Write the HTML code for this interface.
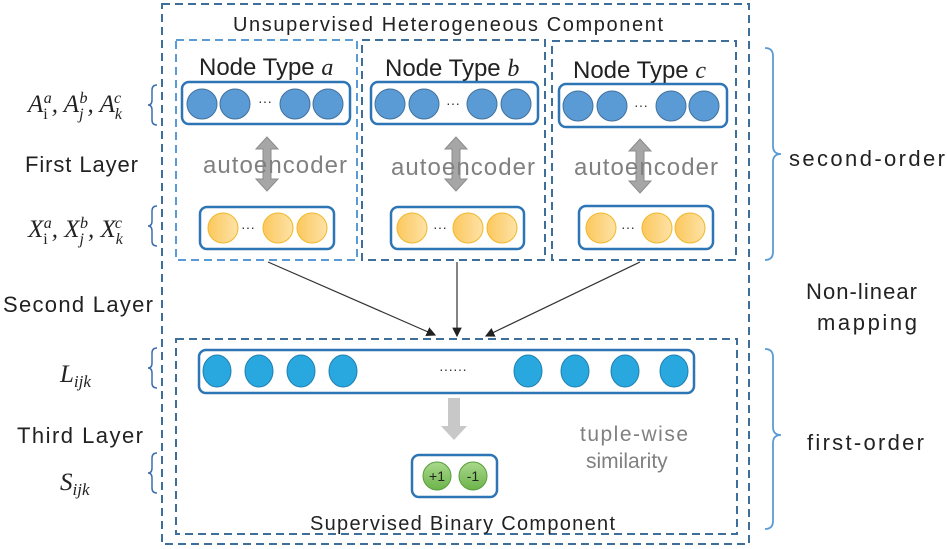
<!DOCTYPE html>
<html><head><meta charset="utf-8"><style>
body{margin:0;background:#fff}
svg{display:block}
text{font-family:"Liberation Sans",sans-serif}
text.m, tspan.m{font-family:"Liberation Serif",serif;font-style:italic}
</style></head><body>
<svg width="947" height="549" viewBox="0 0 947 549" xmlns="http://www.w3.org/2000/svg">
<defs>
<linearGradient id="y" x1="0" x2="1"><stop offset="0" stop-color="#fcc85e"/><stop offset="1" stop-color="#fde2a6"/></linearGradient>
<linearGradient id="g" x1="0" x2="0" y1="0" y2="1"><stop offset="0" stop-color="#a9d98c"/><stop offset="1" stop-color="#6cb34a"/></linearGradient>
<marker id="ar" markerWidth="8" markerHeight="8" refX="7" refY="4" orient="auto"><path d="M0,0 L8,4 L0,8 z" fill="#222"/></marker>
</defs>
<g fill="none" stroke="#3e6f9a" stroke-width="2" stroke-dasharray="8,5">
<rect x="162" y="4" width="587" height="540"/>
<rect x="176" y="40" width="181" height="220" stroke="#5b9bd5"/>
<rect x="362" y="40" width="183" height="220"/>
<rect x="552" y="41" width="184" height="219"/>
<rect x="176" y="339" width="561" height="195"/>
</g>
<text x="448" y="31" font-size="20" text-anchor="middle" fill="#222" textLength="430">Unsupervised Heterogeneous Component</text>
<text x="199" y="75" font-size="24" fill="#222">Node Type <tspan class="m">a</tspan></text>
<text x="385" y="76" font-size="24" fill="#222">Node Type <tspan class="m">b</tspan></text>
<text x="573" y="78" font-size="24" fill="#222">Node Type <tspan class="m">c</tspan></text>
<g fill="#fff" stroke="#2e75b6" stroke-width="2.5">
<rect x="182" y="82" width="168" height="42" rx="7"/>
<rect x="371" y="82" width="167" height="42" rx="7"/>
<rect x="559" y="84" width="168" height="43" rx="7"/>
<rect x="200" y="207" width="134" height="42" rx="7"/>
<rect x="391" y="207" width="133" height="42" rx="7"/>
<rect x="579" y="206" width="134" height="43" rx="7"/>
<rect x="199" y="350" width="495" height="43" rx="7"/>
<rect x="412" y="455" width="85" height="42" rx="7"/>
</g>
<g fill="#5b9bd5" stroke="#41719c" stroke-width="1">
<circle cx="202" cy="104" r="15"/><circle cx="235" cy="104" r="15"/><circle cx="295" cy="104" r="15"/><circle cx="328" cy="104" r="15"/>
<circle cx="390" cy="104" r="15"/><circle cx="424" cy="104" r="15"/><circle cx="482" cy="104" r="15"/><circle cx="516" cy="104" r="15"/>
<circle cx="578" cy="106" r="15"/><circle cx="612" cy="106" r="15"/><circle cx="671" cy="106" r="15"/><circle cx="704" cy="106" r="15"/>
</g>
<g fill="url(#y)" stroke="#f0b82a" stroke-width="1">
<circle cx="223" cy="228" r="15"/><circle cx="278" cy="228" r="15"/><circle cx="312" cy="228" r="15"/>
<circle cx="412" cy="228" r="15"/><circle cx="468" cy="228" r="15"/><circle cx="502" cy="228" r="15"/>
<circle cx="601" cy="228" r="15"/><circle cx="657" cy="228" r="15"/><circle cx="690" cy="228" r="15"/>
</g>
<g font-size="14" fill="#333" text-anchor="middle">
<text x="265" y="106">···</text><text x="453" y="108">···</text><text x="641" y="110">···</text>
<text x="248" y="232">···</text><text x="440" y="232">···</text><text x="628" y="232">···</text>
<text x="453" y="374">······</text>
</g>
<g fill="#29a8e0" stroke="#1f7fb0" stroke-width="1">
<ellipse cx="217" cy="371" rx="14" ry="16"/><ellipse cx="259" cy="371" rx="14" ry="16"/><ellipse cx="301" cy="371" rx="14" ry="16"/><ellipse cx="343" cy="371" rx="14" ry="16"/>
<ellipse cx="528" cy="371" rx="14" ry="16"/><ellipse cx="575" cy="371" rx="14" ry="16"/><ellipse cx="625" cy="371" rx="14" ry="16"/><ellipse cx="674" cy="371" rx="14" ry="16"/>
</g>
<g fill="#a6a6a6" stroke="#8c8c8c" stroke-width="1">
<path d="M267,137 l-11,12 h7 v30 h-7 l11,12 l11,-12 h-7 v-30 h7 z"/>
<path d="M456,137 l-11,12 h7 v30 h-7 l11,12 l11,-12 h-7 v-30 h7 z"/>
<path d="M640,139 l-11,12 h7 v30 h-7 l11,12 l11,-12 h-7 v-30 h7 z"/>
</g>
<path d="M448,398 h12 v28 h7 l-13,14 l-13,-14 h7 z" fill="#c8c8c8"/>
<g font-size="24" fill="#808080">
<text x="203" y="173" textLength="144">autoencoder</text><text x="391" y="175" textLength="144">autoencoder</text><text x="574" y="175" textLength="144">autoencoder</text>
</g>
<g fill="url(#g)" stroke="#5a9e3c" stroke-width="1"><circle cx="437" cy="476" r="14"/><circle cx="473" cy="476" r="14"/></g>
<text x="437" y="481" font-size="14" text-anchor="middle" fill="#222">+1</text>
<text x="473" y="481" font-size="14" text-anchor="middle" fill="#222">-1</text>
<text x="580" y="441" font-size="21" fill="#808080" textLength="108">tuple-wise</text>
<text x="586" y="468" font-size="21" fill="#808080">similarity</text>
<text x="310" y="530" font-size="20" fill="#222" textLength="305">Supervised Binary Component</text>
<g stroke="#333" stroke-width="1.2" marker-end="url(#ar)">
<line x1="268" y1="262" x2="435" y2="335"/>
<line x1="457" y1="262" x2="457" y2="336"/>
<line x1="640" y1="262" x2="486" y2="336"/>
</g>
<g fill="none" stroke="#3d6fb0" stroke-width="1.5">
<path d="M157,85 q-5,0 -5,5 v10 q0,5 -4,5 q4,0 4,5 v10 q0,5 5,5"/>
<path d="M157,206 q-5,0 -5,5 v10 q0,5 -4,5 q4,0 4,5 v10 q0,5 5,5"/>
<path d="M157,348 q-5,0 -5,5 v10 q0,5 -4,5 q4,0 4,5 v10 q0,5 5,5"/>
<path d="M157,453 q-5,0 -5,5 v10 q0,5 -4,5 q4,0 4,5 v10 q0,5 5,5"/>
</g>
<g fill="none" stroke="#5b9bd5" stroke-width="1.8">
<path d="M765,48 q8,0 8,8 v90 q0,8 8,8 q-8,0 -8,8 v90 q0,8 -8,8"/>
<path d="M765,349 q8,0 8,8 v70 q0,8 8,8 q-8,0 -8,8 v78 q0,8 -8,8"/>
</g>
<g font-size="22" fill="#222">
<text x="789" y="166" textLength="156">second-order</text>
<text x="807" y="450" textLength="117">first-order</text>
<text x="806" y="299" textLength="111">Non-linear</text>
<text x="817" y="330" textLength="100">mapping</text>
<text x="25" y="172" textLength="113">First Layer</text>
<text x="3" y="312" textLength="150">Second Layer</text>
<text x="17" y="443" textLength="126">Third Layer</text>
</g>
<g font-size="25" fill="#222">
<text class="m" x="28" y="112">A<tspan font-size="16" style="font-style:normal" dy="7">i</tspan><tspan font-size="16" dx="-4" dy="-16">a</tspan><tspan dy="9">, A</tspan><tspan font-size="16" dy="7">j</tspan><tspan font-size="16" dx="-4" dy="-16">b</tspan><tspan dy="9">, A</tspan><tspan font-size="16" dy="7">k</tspan><tspan font-size="16" dx="-8" dy="-16">c</tspan></text>
<text class="m" x="28" y="237">X<tspan font-size="16" style="font-style:normal" dy="7">i</tspan><tspan font-size="16" dx="-4" dy="-16">a</tspan><tspan dy="9">, X</tspan><tspan font-size="16" dy="7">j</tspan><tspan font-size="16" dx="-4" dy="-16">b</tspan><tspan dy="9">, X</tspan><tspan font-size="16" dy="7">k</tspan><tspan font-size="16" dx="-8" dy="-16">c</tspan></text>
<text class="m" x="60" y="382">L<tspan font-size="17" dy="5">ijk</tspan></text>
<text class="m" x="60" y="490">S<tspan font-size="17" dy="5">ijk</tspan></text>
</g>
</svg>
</body></html>
